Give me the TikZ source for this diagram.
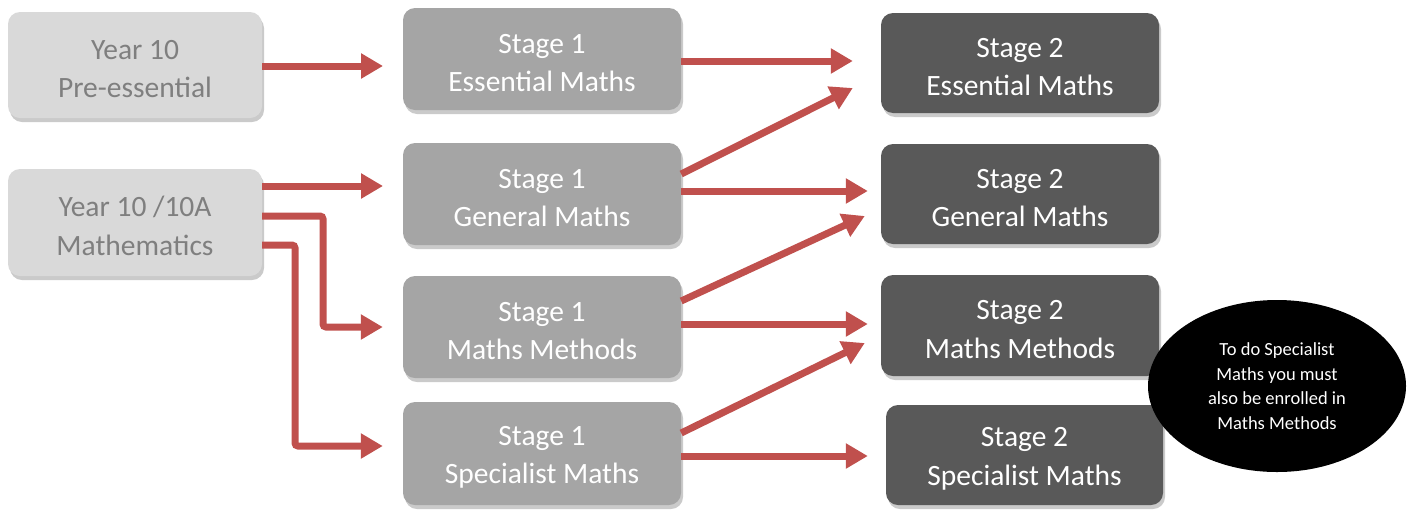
\documentclass[tikz,border=0pt]{standalone}
\usepackage{fontspec}
\setmainfont{Carlito}
\usetikzlibrary{arrows.meta,shadows,calc,shapes.geometric}
\definecolor{arrowred}{HTML}{C0504D}
\definecolor{lightbox}{HTML}{D9D9D9}
\definecolor{lighttext}{HTML}{7F7F7F}
\definecolor{midbox}{HTML}{A5A5A5}
\definecolor{darkbox}{HTML}{595959}
\newcommand\firstlow{\rule{0pt}{27pt}}
\tikzset{
  base/.style={rectangle, rounded corners=12pt, minimum width=278pt, minimum height=102pt,
    align=center, font=\fontsize{29.5}{38.5}\selectfont,
    drop shadow={shadow xshift=2pt, shadow yshift=-4pt, opacity=0.35, fill=black!60}},
  yearbox/.style={base, fill=lightbox, text=lighttext, minimum width=254pt, minimum height=106pt},
  stageone/.style={base, fill=midbox, text=white},
  stagetwo/.style={base, fill=darkbox, text=white, minimum height=100pt},
  flow/.style={draw=arrowred, line width=7pt, -{Triangle[length=22pt,width=24pt]}},
}
\begin{document}
\begin{tikzpicture}[x=1pt,y=-1pt]
\useasboundingbox (0,0) rectangle (1407,512);
% left column
\node[yearbox] (pre) at (135,65) {\firstlow Year 10\\Pre-essential};
\node[yearbox, minimum height=107pt] (y10a) at (135,222.5) {\firstlow Year 10 /10A\\Mathematics};
% stage 1
\node[stageone] (s1e) at (542,59) {\firstlow Stage 1\\Essential Maths};
\node[stageone] (s1g) at (542,194) {\firstlow Stage 1\\General Maths};
\node[stageone] (s1m) at (542,327) {\firstlow Stage 1\\Maths Methods};
\node[stageone, minimum height=103pt] (s1s) at (542,453.5) {\firstlow Stage 1\\Specialist Maths};
% stage 2
\node[stagetwo] (s2e) at (1020,63) {\firstlow Stage 2\\Essential Maths};
\node[stagetwo] (s2g) at (1020,194) {\firstlow Stage 2\\General Maths};
\node[stagetwo, minimum height=101pt] (s2m) at (1020,325.5) {\firstlow Stage 2\\Maths Methods};
\node[stagetwo, minimum width=277pt] (s2s) at (1024.5,455) {\firstlow Stage 2\\Specialist Maths};
% note
\node[ellipse, fill=black, minimum width=258pt, minimum height=172pt, align=center,
  text=white, font=\fontsize{18.5}{24.5}\selectfont, inner sep=0pt] (note) at (1277,386)
  {To do Specialist\\Maths you must\\also be enrolled in\\Maths Methods};
% coordinates for bends
\coordinate (bm) at (323,0);
\coordinate (bs) at (295,0);
\coordinate (s1sin) at ($(s1s.west)+(0,-7.5)$);
% year -> stage 1
\draw[flow] ([yshift=-1pt]pre.east) -- ([yshift=-1pt]pre.east -| 383,0);
\draw[flow] ([yshift=36.5pt]y10a.east) -- ([yshift=36.5pt]y10a.east -| 383,0);
\draw[flow, rounded corners=3pt] ([yshift=6.5pt]y10a.east) -- ([yshift=6.5pt]y10a.east -| bm)
  -- (bm |- s1m.west) -- ([xshift=-20pt]s1m.west);
\draw[flow, rounded corners=3pt] ([yshift=-22.5pt]y10a.east) -- ([yshift=-22.5pt]y10a.east -| bs)
  -- (bs |- s1sin) -- ([xshift=-20pt]s1sin);
% stage 1 -> stage 2
\draw[flow] ([yshift=-2pt]s1e.east) -- ([xshift=-28pt,yshift=2pt]s2e.west);
\draw[flow] ([yshift=20pt]s1g.east) -- ([xshift=-28pt,yshift=-25pt]s2e.west);
\draw[flow] ([yshift=3pt]s1g.east) -- ([xshift=-13pt,yshift=3pt]s2g.west);
\draw[flow] ([yshift=26pt]s1m.east) -- ([xshift=-16pt,yshift=-22pt]s2g.west);
\draw[flow] ([yshift=3pt]s1m.east) -- ([xshift=-13pt,yshift=1.5pt]s2m.west);
\draw[flow] ([yshift=20.5pt]s1s.east) -- ([xshift=-16pt,yshift=-17.5pt]s2m.west);
\draw[flow] ([yshift=-2.5pt]s1s.east) -- ([xshift=-18pt,yshift=-1pt]s2s.west);
\end{tikzpicture}
\end{document}
